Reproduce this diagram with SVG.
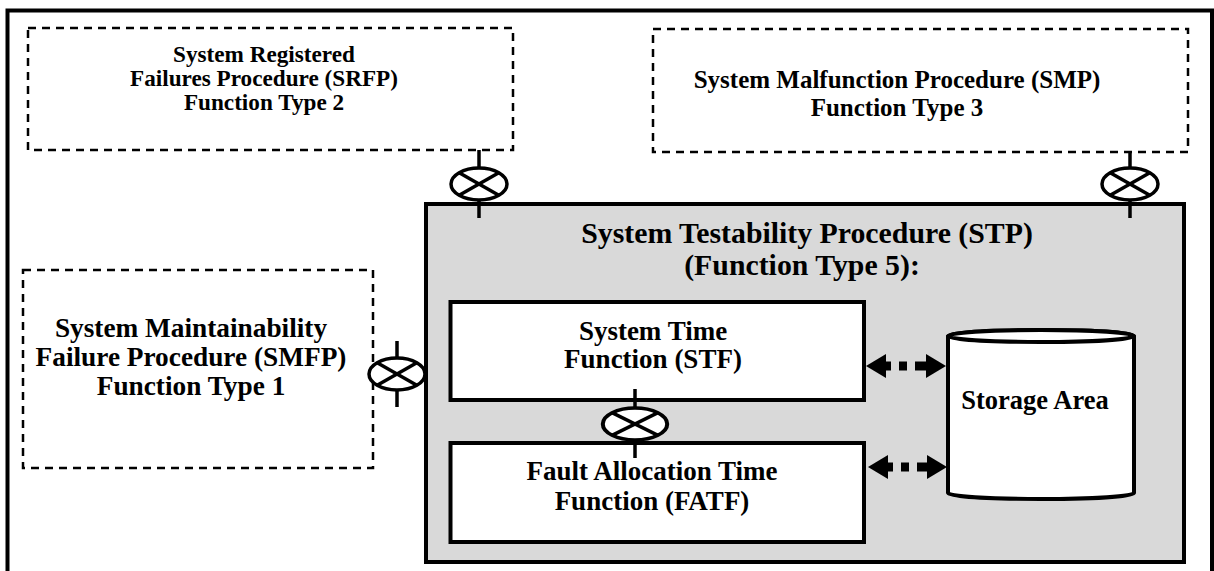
<svg xmlns="http://www.w3.org/2000/svg" width="1214" height="571" viewBox="0 0 1214 571">
  <style>
    .frame { fill: none; stroke: #000; stroke-width: 4; }
    .ext { fill: none; stroke: #000; stroke-width: 2.5; stroke-dasharray: 8 6; }
    .proc { fill: #d9d9d9; stroke: #000; stroke-width: 4; }
    .box { fill: #fff; stroke: #000; stroke-width: 4; }
    .lbl { font-family: "Liberation Serif", "Times New Roman", serif; font-weight: bold; fill: #000; text-anchor: middle; }
    .stub { stroke: #000; stroke-width: 3.5; fill: none; }
    .joint { fill: #fff; stroke: #000; stroke-width: 3.5; }
    .flow { stroke: #000; stroke-width: 9; stroke-dasharray: 5 8 8 8 11; fill: none; }
  </style>
  <defs>
    <marker id="head" markerUnits="userSpaceOnUse" viewBox="0 0 20 24" refX="0" refY="12" markerWidth="20" markerHeight="24" orient="auto-start-reverse">
      <path d="M0,0 L20,12 L0,24 Z" fill="#000"/>
    </marker>
    <!-- junction symbol: ellipse with a cross -->
    <g id="xjoint">
      <ellipse class="joint" cx="0" cy="0" rx="28" ry="16"/>
      <line class="stub" x1="-19.8" y1="-11.3" x2="19.8" y2="11.3"/>
      <line class="stub" x1="-19.8" y1="11.3" x2="19.8" y2="-11.3"/>
    </g>
  </defs>

  <rect width="1214" height="571" fill="#fff"/>
  <!-- outer frame (bottom edge runs past the page) -->
  <rect class="frame" x="7.5" y="10.5" width="1204.5" height="580"/>

  <g id="srfp">
    <rect class="ext" x="28" y="28" width="485" height="122"/>
    <text class="lbl" font-size="23.2" x="264" y="62">System Registered</text>
    <text class="lbl" font-size="23.2" x="264" y="86">Failures Procedure (SRFP)</text>
    <text class="lbl" font-size="23.2" x="264" y="110">Function Type 2</text>
  </g>

  <g id="smp">
    <rect class="ext" x="653" y="29" width="535" height="123"/>
    <text class="lbl" font-size="25" x="897" y="88">System Malfunction Procedure (SMP)</text>
    <text class="lbl" font-size="25" x="897" y="116">Function Type 3</text>
  </g>

  <g id="smfp">
    <rect class="ext" x="23" y="270" width="350" height="198"/>
    <text class="lbl" font-size="27.3" x="191" y="337">System Maintainability</text>
    <text class="lbl" font-size="27.3" x="191" y="366">Failure Procedure (SMFP)</text>
    <text class="lbl" font-size="27.3" x="191" y="395">Function Type 1</text>
  </g>

  <g id="stp">
    <rect class="proc" x="426" y="204" width="758" height="358"/>
    <text class="lbl" font-size="29.8" x="807" y="243">System Testability Procedure (STP)</text>
    <text class="lbl" font-size="29.8" x="802" y="275">(Function Type 5):</text>
  </g>

  <g id="stf">
    <rect class="box" x="450.5" y="302" width="413.5" height="98"/>
    <text class="lbl" font-size="27" x="653" y="340">System Time</text>
    <text class="lbl" font-size="27" x="653" y="368">Function (STF)</text>
  </g>

  <g id="fatf">
    <rect class="box" x="450.5" y="443" width="413.5" height="99"/>
    <text class="lbl" font-size="27" x="652" y="480">Fault Allocation Time</text>
    <text class="lbl" font-size="27" x="652" y="510">Function (FATF)</text>
  </g>

  <g id="storage">
    <path class="box" d="M948,336 L948,493 A93,6 0 0 0 1134,493 L1134,336 A93,6 0 0 0 948,336 Z"/>
    <ellipse class="box" cx="1041" cy="336" rx="93" ry="6"/>
    <text class="lbl" font-size="26.5" x="1035" y="409">Storage Area</text>
  </g>

  <g id="connectors">
    <!-- SRFP to STP -->
    <line class="stub" x1="479" y1="150" x2="479" y2="168"/>
    <line class="stub" x1="479" y1="200" x2="479" y2="218"/>
    <use href="#xjoint" x="479" y="184"/>
    <!-- SMP to STP -->
    <line class="stub" x1="1130" y1="152" x2="1130" y2="168"/>
    <line class="stub" x1="1130" y1="200" x2="1130" y2="218"/>
    <use href="#xjoint" x="1130" y="184"/>
    <!-- SMFP to STP -->
    <line class="stub" x1="397" y1="341" x2="397" y2="360"/>
    <line class="stub" x1="397" y1="389" x2="397" y2="407"/>
    <use href="#xjoint" x="397" y="374"/>
    <!-- STF to FATF -->
    <line class="stub" x1="635" y1="389" x2="635" y2="409"/>
    <line class="stub" x1="635" y1="439" x2="635" y2="458"/>
    <g transform="translate(635,424) scale(1.15,1)">
      <ellipse class="joint" cx="0" cy="0" rx="28" ry="16" stroke-width="3.3"/>
      <line class="stub" x1="-19.8" y1="-11.3" x2="19.8" y2="11.3" stroke-width="3.3"/>
      <line class="stub" x1="-19.8" y1="11.3" x2="19.8" y2="-11.3" stroke-width="3.3"/>
    </g>
    <!-- data flows to storage -->
    <line class="flow" x1="886" y1="366" x2="926" y2="366" marker-start="url(#head)" marker-end="url(#head)"/>
    <line class="flow" x1="888" y1="467" x2="927" y2="467" marker-start="url(#head)" marker-end="url(#head)"/>
  </g>
</svg>
